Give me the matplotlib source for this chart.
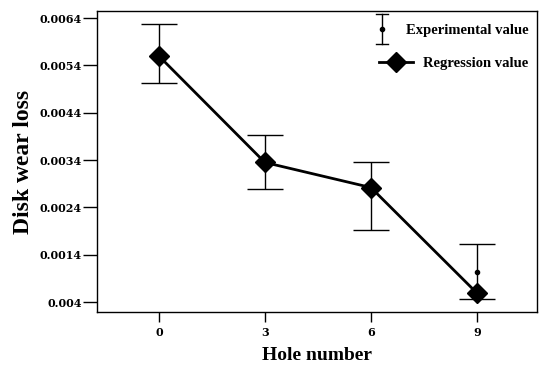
import matplotlib
matplotlib.use("Agg")
import matplotlib.pyplot as plt
from matplotlib.lines import Line2D
import numpy as np

holes = [0, 3, 6, 9]
exp_mean = [0.00565, 0.00335, 0.00282, 0.00103]
exp_low = [0.00503, 0.00278, 0.00192, 0.00046]
exp_high = [0.00627, 0.00392, 0.00337, 0.00162]
regression = [0.0056, 0.00335, 0.00282, 0.00059]
ytick_vals = [0.0004, 0.0014, 0.0024, 0.0034, 0.0044, 0.0054, 0.0064]
ytick_labels = ["0.004", "0.0014", "0.0024", "0.0034", "0.0044", "0.0054", "0.0064"]

plt.rcParams['font.family'] = ['Liberation Serif', 'DejaVu Serif']


class ErrHandler:
    """Vertical I-shaped errorbar legend symbol drawn at the left of the handle box."""
    def legend_artist(self, legend, orig_handle, fontsize, handlebox):
        x0, y0 = -handlebox.xdescent, -handlebox.ydescent
        h = handlebox.height
        cx = x0 + 3
        yc = y0 + h / 2
        half = 11
        tr = handlebox.get_transform()
        arts = [
            Line2D([cx, cx], [yc - half, yc + half], color='black', lw=1, transform=tr),
            Line2D([cx - 4, cx + 4], [yc + half, yc + half], color='black', lw=1, transform=tr),
            Line2D([cx - 4, cx + 4], [yc - half, yc - half], color='black', lw=1, transform=tr),
            Line2D([cx], [yc], marker='o', ms=3, color='black', transform=tr),
        ]
        for a in arts:
            handlebox.add_artist(a)
        return arts[0]


fig = plt.figure(figsize=(5.43, 3.69), dpi=100)
ax = fig.add_axes([97/543, 57/369, 440/543, 301/369])

m = np.array(exp_mean)
yerr = [m - np.array(exp_low), np.array(exp_high) - m]
eb = ax.errorbar(holes, exp_mean, yerr=yerr, fmt='o', color='black', ms=3,
                 capsize=13, elinewidth=1, capthick=1, label='Experimental value', zorder=2)
ln, = ax.plot(holes, regression, '-D', color='black', lw=2, ms=10, label='Regression value', zorder=3)

ax.set_xlim(-1.75, 10.7)
ax.set_ylim(0.00019, 0.00655)
ax.set_xticks(holes)
ax.set_xticklabels([str(h) for h in holes])
ax.set_yticks(ytick_vals)
ax.set_yticklabels(ytick_labels)
ax.tick_params(axis='y', direction='out', length=10, width=1, pad=1)
ax.tick_params(axis='x', direction='out', length=7, width=1, pad=4)
for lbl in ax.get_xticklabels() + ax.get_yticklabels():
    lbl.set_fontweight('bold')
    lbl.set_fontfamily('DejaVu Serif')
    lbl.set_fontsize(8)
for s in ax.spines.values():
    s.set_linewidth(1)

ax.set_xlabel('Hole number', fontsize=14, fontweight='bold', labelpad=6)
ax.set_ylabel('Disk wear loss', fontsize=17, fontweight='bold', labelpad=4)

leg1 = ax.legend([eb], ['Experimental value'], handler_map={type(eb): ErrHandler()},
                 loc='upper right', bbox_to_anchor=(0.98, 0.957), frameon=False,
                 prop={'weight': 'bold', 'size': 10.5}, handlelength=1.2, handletextpad=0.7,
                 borderpad=0, borderaxespad=0)
ax.add_artist(leg1)
ax.legend([ln], ['Regression value'], loc='upper right', bbox_to_anchor=(0.98, 0.848),
          frameon=False, prop={'weight': 'bold', 'size': 10.5}, handlelength=2.3,
          handletextpad=0.7, borderpad=0, borderaxespad=0)

fig.savefig('out.png', dpi=100)
